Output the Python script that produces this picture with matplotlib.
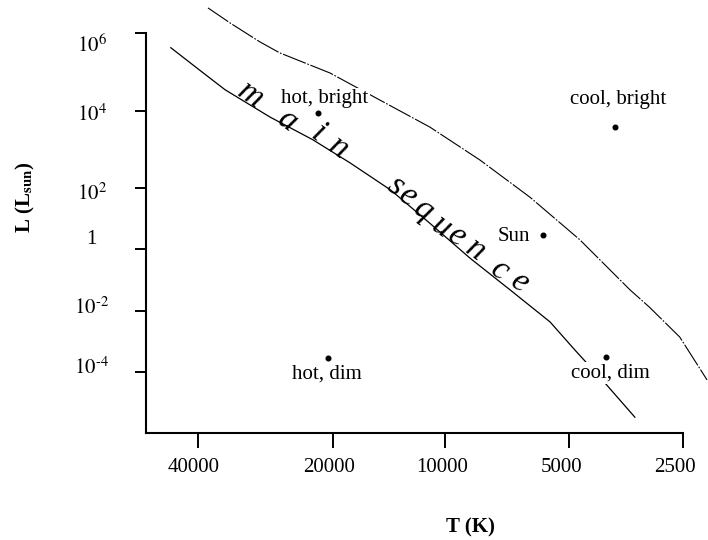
import numpy as np
import matplotlib
import matplotlib.pyplot as plt
from matplotlib.ticker import FixedLocator, FixedFormatter, NullFormatter

matplotlib.use("Agg")

# axis ticks
temp_ticks = [40000, 20000, 10000, 5000, 2500]
temp_labels = ["40000", "20000", "10000", "5000", "2500"]
lum_ticks = [1e-4, 1e-2, 1, 1e2, 1e4, 1e6]
lum_labels = [r"$10^{\text{-}4}$", r"$10^{\text{-}2}$", "1",
              r"$10^{2}$", r"$10^{4}$", r"$10^{6}$"]

# labelled stars
star_names = ["hot, bright", "cool, bright", "Sun", "hot, dim", "cool, dim"]
star_temp = [21600, 3780, 5780, 20500, 3990]
star_lum = [8.9e3, 3.8e3, 2.9, 2.9e-4, 3.1e-4]

# hand drawn main sequence line
ms_temp = [46000, 39600, 34800, 27600, 22200, 18000, 14000, 11000,
           8700, 6950, 5560, 4820, 4020, 3350]
ms_lum = [4.2e5, 1.1e5, 3.5e4, 6.9e3, 1.8e3, 450, 86, 7.1,
          0.51, 0.048, 4.4e-3, 5.2e-4, 4.4e-5, 3.3e-6]

# upper hand drawn curve
upper_temp = [38000, 33900, 29100, 26300, 20300, 14950, 10970, 8220,
              6220, 4680, 3450, 3060, 2550, 2160]
upper_lum = [4.4e6, 1.8e6, 5.9e5, 3.1e5, 9.4e4, 1.9e4, 3.8e3, 530,
             50, 2.0, 0.048, 0.013, 1.4e-3, 5.5e-5]

# the drawing is hand spaced: where each tick sits along the axis (px)
temp_tick_px = [52, 187, 299, 423, 537]
lum_tick_px = [61, 122, 184, 245, 322, 400]
# tick labels are not quite on their ticks
temp_label_at = [40830, 20415, 10156, 5226, 2624]
lum_label_at = [10 ** -3.80, 10 ** -1.81, 10 ** 0.39, 10 ** 1.87, 10 ** 3.95, 10 ** 5.74]


def piecewise(knots, values):
    knots = np.asarray(knots, float)
    values = np.asarray(values, float)
    s0 = (values[1] - values[0]) / (knots[1] - knots[0])
    s1 = (values[-1] - values[-2]) / (knots[-1] - knots[-2])

    def f(v):
        v = np.asarray(v, float)
        out = np.interp(v, knots, values)
        out = np.where(v < knots[0], values[0] + (v - knots[0]) * s0, out)
        out = np.where(v > knots[-1], values[-1] + (v - knots[-1]) * s1, out)
        return out
    return f


# x: increasing in T, the axis is then inverted through its limits
tu = -np.log2(temp_ticks)
x_fwd = piecewise(tu, temp_tick_px)
x_inv = piecewise(temp_tick_px, tu)
ly = np.log10(lum_ticks)
y_fwd = piecewise(ly, lum_tick_px)
y_inv = piecewise(lum_tick_px, ly)

x_funcs = (lambda t: -x_fwd(-np.log2(np.clip(t, 1e-9, None))),
           lambda q: 2.0 ** (-x_inv(-np.asarray(q, float))))
y_funcs = (lambda l: y_fwd(np.log10(np.clip(l, 1e-30, None))),
           lambda p: 10.0 ** y_inv(p))

plt.rcParams["font.family"] = ["Liberation Serif", "DejaVu Serif"]
plt.rcParams["mathtext.fontset"] = "stix"

fig = plt.figure(figsize=(7.08, 5.4), dpi=100)
ax = fig.add_axes([146 / 708, 107 / 540, 537 / 708, 400 / 540])
ax.set_xscale("function", functions=x_funcs)
ax.set_yscale("function", functions=y_funcs)
ax.set_xlim(float(x_funcs[1](0)), 2500)
ax.set_ylim(float(y_funcs[1](0)), 1e6)

for s in ["top", "right"]:
    ax.spines[s].set_visible(False)
for s in ["left", "bottom"]:
    ax.spines[s].set_linewidth(1.5)

# ticks carry no label, labels sit on invisible minor ticks
ax.xaxis.set_major_locator(FixedLocator(temp_ticks))
ax.xaxis.set_major_formatter(NullFormatter())
ax.xaxis.set_minor_locator(FixedLocator(temp_label_at))
ax.xaxis.set_minor_formatter(FixedFormatter(temp_labels))
ax.yaxis.set_major_locator(FixedLocator(lum_ticks))
ax.yaxis.set_major_formatter(NullFormatter())
ax.yaxis.set_minor_locator(FixedLocator(lum_label_at))
ax.yaxis.set_minor_formatter(FixedFormatter(lum_labels))
ax.xaxis.remove_overlapping_locs = False
ax.yaxis.remove_overlapping_locs = False

ax.tick_params(axis="x", which="major", length=11, width=1.4, direction="out")
ax.tick_params(axis="y", which="major", length=8, width=1.4, direction="out")
ax.tick_params(axis="x", which="minor", length=0, pad=18, labelsize=15)
ax.tick_params(axis="y", which="minor", length=0, pad=39, labelsize=15)
for lab in ax.get_yticklabels(minor=True):
    lab.set_horizontalalignment("center")

ax.plot(ms_temp, ms_lum, color="black", lw=0.9, clip_on=False, zorder=2)
ax.plot(upper_temp, upper_lum, color="black", lw=0.8, clip_on=False,
        dashes=(22, 1.5, 1.5, 1.5), zorder=2)

ax.scatter(star_temp, star_lum, s=11, color="black", zorder=4)
offsets = [(7, 14), (3, 28), (-29, -2), (-1, -16), (4, -16)]
for name, t, l, off in zip(star_names, star_temp, star_lum, offsets):
    ax.annotate(name, (t, l), xytext=off, textcoords="offset pixels",
                ha="center", va="center", fontsize=15, zorder=5,
                bbox=dict(boxstyle="square,pad=0.05", fc="white", ec="none"))

# handwritten "main sequence" along the line
hand_letters = ["m", "a", "i", "n", "s", "e", "q", "u", "e", "n", "c", "e"]
hand_pos = [(0.194, 0.845), (0.263, 0.780), (0.320, 0.750), (0.358, 0.712),
            (0.464, 0.617), (0.488, 0.590), (0.516, 0.557), (0.549, 0.515),
            (0.579, 0.490), (0.613, 0.457), (0.659, 0.407), (0.696, 0.375)]
for ch, (fx, fy) in zip(hand_letters, hand_pos):
    ax.text(fx, fy, ch, transform=ax.transAxes, fontsize=24, style="italic",
            rotation=-35, ha="center", va="center", zorder=6)

ax.set_ylabel(r"L (L$_{\mathbf{sun}}$)", fontsize=15, fontweight="bold")
ax.yaxis.set_label_coords(-0.203, 0.59)
ax.set_xlabel("T (K)", fontsize=15, fontweight="bold", va="top")
ax.xaxis.set_label_coords(0.605, -0.21)

fig.savefig("out.png", dpi=100)
